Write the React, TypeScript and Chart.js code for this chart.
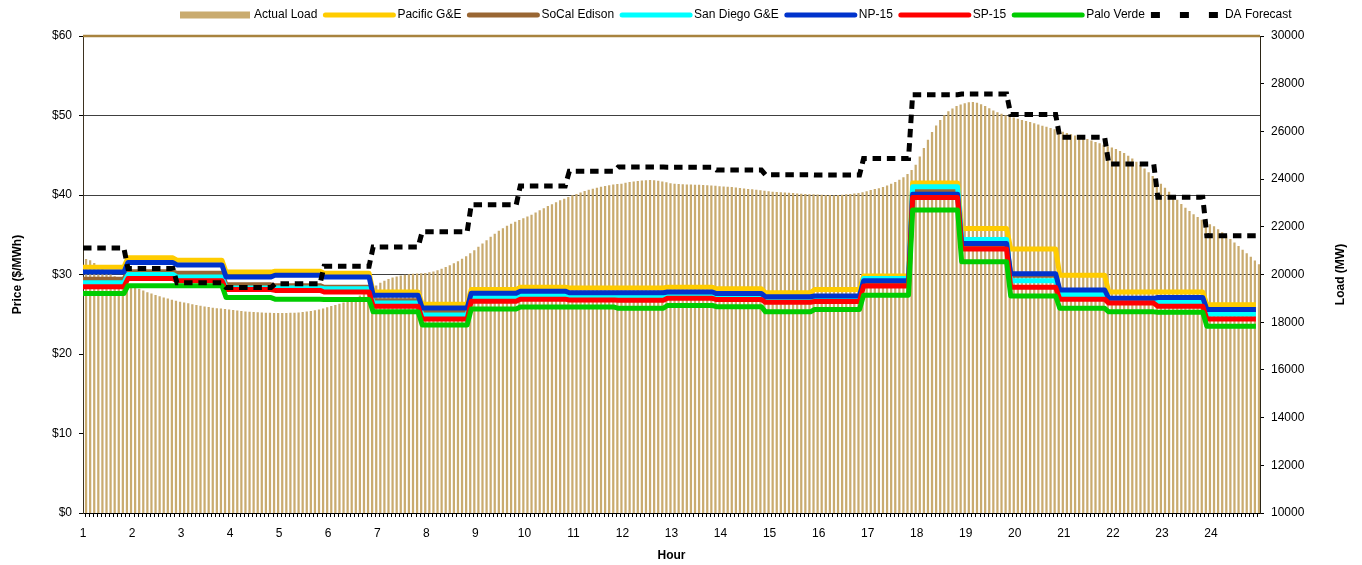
import React, { useEffect, useRef } from 'react';
import { Chart, registerables } from 'chart.js';

Chart.register(...registerables);

// ---------- data ----------
const hourLabels = ['1','2','3','4','5','6','7','8','9','10','11','12','13','14','15','16','17','18','19','20','21','22','23','24'];

// Actual load, 5-minute intervals (MW), 12 per hour
const actualLoad = [
  20650, 20600, 20480, 20350, 20230, 20120, 20020, 19930, 19840, 19750, 19660, 19560,
  19470, 19400, 19330, 19260, 19200, 19140, 19090, 19040, 18990, 18940, 18900, 18860,
  18830, 18790, 18750, 18720, 18690, 18660, 18640, 18610, 18590, 18570, 18550, 18530,
  18510, 18490, 18470, 18450, 18440, 18430, 18420, 18410, 18400, 18395, 18390, 18390,
  18390, 18390, 18395, 18400, 18410, 18425, 18445, 18470, 18500, 18535, 18575, 18625,
  18680, 18720, 18770, 18830, 18890, 18960, 19040, 19120, 19210, 19310, 19420, 19540,
  19650, 19740, 19810, 19870, 19920, 19960, 19990, 20010, 20030, 20040, 20050, 20060,
  20090, 20130, 20180, 20240, 20310, 20390, 20470, 20560, 20660, 20770, 20890, 21020,
  21160, 21300, 21440, 21580, 21710, 21830, 21940, 22040, 22130, 22210, 22290, 22360,
  22430, 22510, 22600, 22690, 22780, 22870, 22950, 23030, 23110, 23180, 23250, 23320,
  23380, 23440, 23500, 23550, 23600, 23640, 23680, 23710, 23740, 23770, 23790, 23810,
  23850, 23880, 23900, 23920, 23940, 23950, 23960, 23950, 23930, 23900, 23870, 23830,
  23800, 23790, 23780, 23775, 23770, 23765, 23760, 23750, 23740, 23730, 23720, 23700,
  23690, 23680, 23670, 23650, 23630, 23610, 23590, 23570, 23550, 23530, 23510, 23490,
  23470, 23460, 23450, 23440, 23430, 23420, 23400, 23390, 23380, 23370, 23360, 23350,
  23340, 23330, 23330, 23320, 23330, 23340, 23360, 23380, 23400, 23420, 23450, 23490,
  23540, 23580, 23620, 23670, 23730, 23800, 23880, 23970, 24080, 24210, 24380, 24600,
  24950, 25300, 25650, 25980, 26250, 26480, 26680, 26840, 26960, 27060, 27130, 27180,
  27220, 27230, 27200, 27140, 27060, 26970, 26880, 26800, 26740, 26680, 26630, 26580,
  26530, 26480, 26440, 26390, 26340, 26290, 26240, 26190, 26140, 26090, 26040, 25990,
  25930, 25880, 25830, 25780, 25730, 25680, 25620, 25560, 25500, 25440, 25380, 25320,
  25260, 25180, 25090, 24980, 24860, 24730, 24590, 24440, 24290, 24130, 23970, 23800,
  23640, 23470, 23300, 23130, 22960, 22800, 22660, 22530, 22410, 22300, 22200, 22110,
  22020, 21900, 21770, 21630, 21490, 21340, 21190, 21040, 20890, 20740, 20590, 20430,
];

// Hourly prices ($/MWh)
const pacificGE  = [30.9, 32.1, 31.8, 30.3, 30.4, 30.15, 27.8, 26.25, 28.1, 28.4, 28.3, 28.3, 28.4, 28.2, 27.7, 28.1, 29.8, 41.5, 35.8, 33.2, 29.9, 27.8, 27.8, 26.2];
const socalEdison = [29.4, 30.35, 30.15, 28.7, 28.6, 28.4, 26.7, 25.4, 27.45, 27.7, 27.5, 27.5, 27.6, 27.4, 27.0, 27.1, 29.0, 40.5, 33.7, 29.9, 27.85, 26.85, 26.9, 25.4];
const sanDiegoGE = [28.95, 30.0, 29.7, 28.3, 28.3, 28.2, 26.4, 24.9, 27.2, 27.45, 27.25, 27.25, 27.35, 27.15, 26.8, 26.9, 29.5, 41.05, 34.4, 29.2, 27.5, 26.9, 26.6, 25.0];
const np15 = [30.3, 31.5, 31.2, 29.7, 29.9, 29.7, 27.4, 25.8, 27.65, 27.9, 27.7, 27.7, 27.8, 27.6, 27.2, 27.3, 29.2, 40.1, 33.9, 30.1, 28.05, 27.0, 27.1, 25.6];
const sp15 = [28.45, 29.5, 29.2, 28.1, 28.0, 27.8, 26.0, 24.4, 26.65, 26.9, 26.8, 26.75, 27.0, 26.85, 26.5, 26.6, 28.55, 39.7, 33.2, 28.4, 26.9, 26.4, 26.0, 24.4];
const paloVerde = [27.6, 28.6, 28.6, 27.1, 26.9, 26.85, 25.3, 23.65, 25.65, 25.9, 25.9, 25.75, 26.1, 25.95, 25.3, 25.6, 27.4, 38.1, 31.6, 27.3, 25.75, 25.3, 25.25, 23.5];

// Day-ahead load forecast (MW), hourly
const daForecast = [21110, 20250, 19650, 19450, 19610, 20350, 21150, 21790, 22920, 23710, 24330, 24510, 24500, 24380, 24180, 24170, 24860, 27540, 27570, 26710, 25750, 24630, 23240, 21620];

// ---------- helpers ----------
const PER_HOUR = 12;
const N = hourLabels.length * PER_HOUR;

function stepSeries(hourly: number[]) {
  const pts: { x: number; y: number }[] = [];
  for (let k = 0; k < N; k++) {
    const h = Math.min(hourly.length - 1, Math.floor((k + 1) / PER_HOUR));
    pts.push({ x: k, y: hourly[h] });
  }
  return pts;
}

const FONT = '"Liberation Sans", Arial, Helvetica, sans-serif';
const TAN = '#c9ab6f';

const overlayPlugin = {
  id: 'overlay',
  afterDraw(chart: any) {
    const ctx = chart.ctx as CanvasRenderingContext2D;
    const ca = chart.chartArea;
    ctx.save();

    // top border of plot area
    ctx.strokeStyle = '#a8833e';
    ctx.lineWidth = 2.5;
    ctx.beginPath();
    ctx.moveTo(ca.left, ca.top);
    ctx.lineTo(ca.right, ca.top);
    ctx.stroke();

    // legend
    ctx.font = '12px ' + FONT;
    ctx.textBaseline = 'middle';
    ctx.textAlign = 'left';
    let x = 180;
    const y = 15;
    const symW = 72;
    chart.data.datasets.forEach((ds: any) => {
      if (ds.type === 'bar') {
        ctx.fillStyle = TAN;
        ctx.fillRect(x, y - 3.5, symW - 2, 7);
      } else if (ds.borderDash && ds.borderDash.length) {
        ctx.fillStyle = '#000';
        for (let i = 0; i < 3; i++) ctx.fillRect(x + i * 29, y - 3, 9, 6);
      } else {
        ctx.strokeStyle = ds.borderColor;
        ctx.lineWidth = 5;
        ctx.lineCap = 'round';
        ctx.beginPath();
        ctx.moveTo(x + 2, y);
        ctx.lineTo(x + symW - 2, y);
        ctx.stroke();
      }
      ctx.fillStyle = '#000';
      ctx.fillText(ds.label, x + symW + 2, y);
      x += symW + 2 + ctx.measureText(ds.label).width + 6;
    });

    // axis titles
    ctx.font = 'bold 12px ' + FONT;
    ctx.fillStyle = '#000';
    ctx.textAlign = 'center';
    ctx.fillText('Hour', (ca.left + ca.right) / 2, 556);
    const midY = (ca.top + ca.bottom) / 2;
    ctx.save();
    ctx.translate(18, midY);
    ctx.rotate(-Math.PI / 2);
    ctx.fillText('Price ($/MWh)', 0, 0);
    ctx.restore();
    ctx.save();
    ctx.translate(1341, midY);
    ctx.rotate(-Math.PI / 2);
    ctx.fillText('Load (MW)', 0, 0);
    ctx.restore();

    ctx.restore();
  },
};

function priceLine(label: string, values: number[], color: string, order: number) {
  return {
    type: 'line' as const,
    label,
    data: stepSeries(values),
    yAxisID: 'y',
    xAxisID: 'x',
    borderColor: color,
    backgroundColor: color,
    borderWidth: 5,
    pointRadius: 0,
    fill: false,
    tension: 0,
    borderJoinStyle: 'round' as const,
    order,
  };
}

export default function App() {
  const ref = useRef<HTMLCanvasElement | null>(null);

  useEffect(() => {
    if (!ref.current) return;
    Chart.defaults.font.family = FONT;
    Chart.defaults.font.size = 12;
    Chart.defaults.color = '#000';

    const chart = new Chart(ref.current, {
      type: 'line',
      data: {
        datasets: [
          {
            type: 'bar',
            label: 'Actual Load',
            data: actualLoad.map((v, k) => ({ x: k + 0.75, y: v })),
            yAxisID: 'y1',
            xAxisID: 'x',
            backgroundColor: TAN,
            borderWidth: 0,
            barPercentage: 0.55,
            categoryPercentage: 1,
            order: 100,
          } as any,
          priceLine('Pacific G&E', pacificGE, '#ffcc00', 7),
          priceLine('SoCal Edison', socalEdison, '#996633', 6),
          priceLine('San Diego G&E', sanDiegoGE, '#00ffff', 5),
          priceLine('NP-15', np15, '#0033cc', 4),
          priceLine('SP-15', sp15, '#ff0000', 3),
          priceLine('Palo Verde', paloVerde, '#00cc00', 2),
          {
            type: 'line',
            label: 'DA Forecast',
            data: stepSeries(daForecast),
            yAxisID: 'y1',
            xAxisID: 'x',
            borderColor: '#000',
            backgroundColor: '#000',
            borderWidth: 5,
            borderDash: [8.5, 5.8],
            pointRadius: 0,
            fill: false,
            tension: 0,
            order: 1,
          } as any,
        ],
      },
      options: {
        animation: false,
        responsive: true,
        maintainAspectRatio: false,
        events: [],
        layout: { padding: { top: 36, left: 0, right: 0, bottom: 0 } },
        plugins: {
          legend: { display: false },
          tooltip: { enabled: false },
          title: { display: false },
        },
        scales: {
          x: {
            type: 'linear',
            min: 0,
            max: N,
            offset: false,
            afterFit: (s: any) => { s.height = 52; },
            ticks: {
              stepSize: 1,
              autoSkip: false,
              maxRotation: 0,
              minRotation: 0,
              maxTicksLimit: 1000,
              padding: 9,
              color: '#000',
              font: { size: 12 },
              callback: (v: any) => {
                const n = Number(v);
                return n % PER_HOUR === 0 && n < N ? hourLabels[n / PER_HOUR] : '';
              },
            },
            grid: { drawOnChartArea: false, drawTicks: true, tickLength: 4, tickColor: '#000', tickWidth: 1 },
            border: { display: true, color: '#000', width: 1 },
          },
          y: {
            type: 'linear',
            position: 'left',
            min: 0,
            max: 60,
            afterFit: (s: any) => { s.width = 83; },
            ticks: {
              stepSize: 10,
              padding: 7,
              color: '#000',
              font: { size: 12 },
              callback: (v: any) => '$' + v,
            },
            grid: {
              color: (c: any) => {
                const v = c.tick ? c.tick.value : -1;
                return v >= 30 && v < 60 ? '#404040' : 'rgba(0,0,0,0)';
              },
              lineWidth: 1,
              drawTicks: true,
              tickLength: 4,
              tickColor: '#000',
            },
            border: { display: true, color: '#3d3220', width: 1 },
          },
          y1: {
            type: 'linear',
            position: 'right',
            min: 10000,
            max: 30000,
            afterFit: (s: any) => { s.width = 102; },
            ticks: {
              stepSize: 2000,
              padding: 7,
              color: '#000',
              font: { size: 12 },
              callback: (v: any) => String(v),
            },
            grid: { drawOnChartArea: false, drawTicks: true, tickLength: 4, tickColor: '#000' },
            border: { display: true, color: '#2b2415', width: 1 },
          },
        },
      } as any,
      plugins: [overlayPlugin],
    });

    return () => chart.destroy();
  }, []);

  return (
    <div style={{ position: 'fixed', left: 0, top: 0, width: 1362, height: 565 }}>
      <canvas ref={ref} />
    </div>
  );
}
